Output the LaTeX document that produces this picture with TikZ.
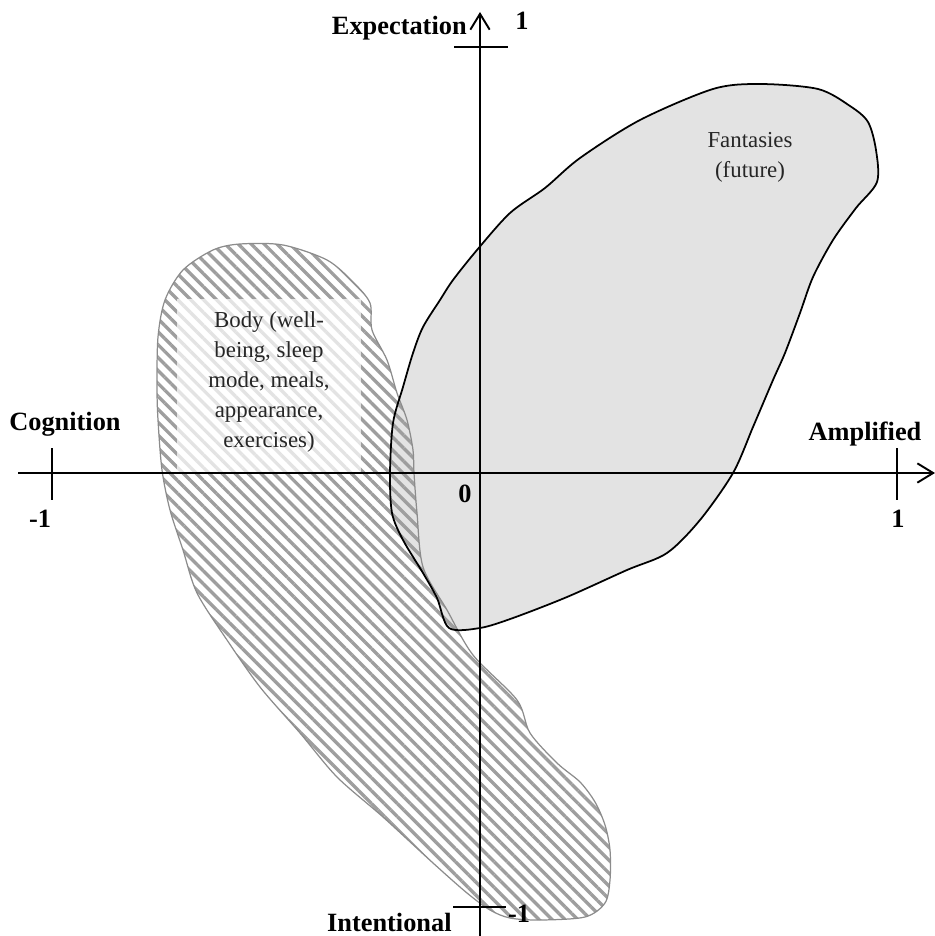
\documentclass[tikz,border=0pt]{standalone}
\usepackage{fontspec}
\setmainfont{Liberation Serif}
\usetikzlibrary{arrows.meta,patterns.meta}

\tikzset{
  axislab/.style={font=\fontsize{15}{18}\selectfont\bfseries, inner sep=0pt},
  regionlab/.style={font=\fontsize{13}{17}\selectfont, align=center, text=black!85},
  axisline/.style={line width=1.1pt, -{Straight Barb[length=9pt,width=11pt,line width=1.1pt]}},
  tickline/.style={line width=1.1pt},
  fantfill/.style={fill=black!11},
  fantline/.style={line width=1pt, black},
  bodyline/.style={line width=0.7pt, draw=black!45,
    pattern={Lines[angle=-45,distance=5.2pt,line width=1.9pt]}, pattern color=black!38},
  bodybox/.style={fill=white, fill opacity=0.72, text opacity=1,
    minimum width=3.7cm, minimum height=3.46cm, inner sep=0pt}
}

\begin{document}
\begin{tikzpicture}[x=0.02cm, y=-0.02cm]
  \useasboundingbox (0,0) rectangle (935,936);

  % Fantasies region
  \path[save path=\fantpath] plot[smooth cycle, tension=0.5] coordinates {
    (713,89) (760,84) (818,89) (850,106) (868,122) (876,150)
    (877,182) (856,208) (833,240) (813,277) (800,313) (785,353)
    (773,380) (753,427) (733,473) (700,520) (667,553) (627,570) (567,597)
    (513,618) (480,628) (449,628) (437,598) (423,573) (403,540) (392,513)
    (390,473) (393,423) (403,387) (413,353) (423,327) (440,300) (453,280)
    (477,250) (510,213) (545,188) (580,158) (640,120)};
  \fill[fantfill, use path=\fantpath];

  % Body region
  \draw[bodyline] plot[smooth cycle, tension=0.5] coordinates {
    (213,250) (240,244) (283,245) (327,260) (353,282) (370,303) (372,330)
    (387,360) (397,393) (407,420) (413,450) (414,473) (417,513) (423,567)
    (447,610) (473,655) (517,700) (530,733) (557,763) (580,782) (595,802)
    (605,825) (610,850) (610,880) (605,903) (585,917) (540,920) (510,918)
    (490,910) (467,893) (433,863) (383,817) (337,777) (300,733) (260,687)
    (227,640) (197,593) (183,550) (170,510) (162,470) (158,420) (157,387)
    (158,337) (165,300) (183,270)};
  \draw[fantline, use path=\fantpath];

  % region labels
  \node[bodybox] (bodybg) at (269,385.5) {};
  \node[regionlab] (body) at (269,382)
    {Body (well-\\being, sleep\\mode, meals,\\appearance,\\exercises)};
  \node[regionlab] (fant) at (750,157) {Fantasies\\(future)};

  % Axes
  \coordinate (xl) at (18,473);
  \coordinate (xr) at (935,473);
  \coordinate (yb) at (480,936);
  \coordinate (yt) at (480,12);
  \draw[axisline] (xl) -- (xr);
  \draw[axisline] (yb) -- (yt);

  % Ticks
  \draw[tickline] (52,448) -- (52,500);
  \draw[tickline] (897,448) -- (897,500);
  \draw[tickline] (454,47) -- (508,47);
  \draw[tickline] (453,907) -- (506,907);

  % Axis labels
  \node[axislab, anchor=base east] (expect) at (467,35) {Expectation};
  \node[axislab, anchor=base] (ytop) at (522,30) {1};
  \node[axislab, anchor=base] (cogn) at (65,430) {Cognition};
  \node[axislab, anchor=base] (xleft) at (40,527) {-1};
  \node[axislab, anchor=base] (ampl) at (865,440) {Amplified};
  \node[axislab, anchor=base] (xright) at (898,527) {1};
  \node[axislab, anchor=base] (orig) at (465,502) {0};
  \node[axislab, anchor=base east] (inten) at (452,931) {Intentional};
  \node[axislab, anchor=base] (ybot) at (519,922) {-1};
\end{tikzpicture}
\end{document}
